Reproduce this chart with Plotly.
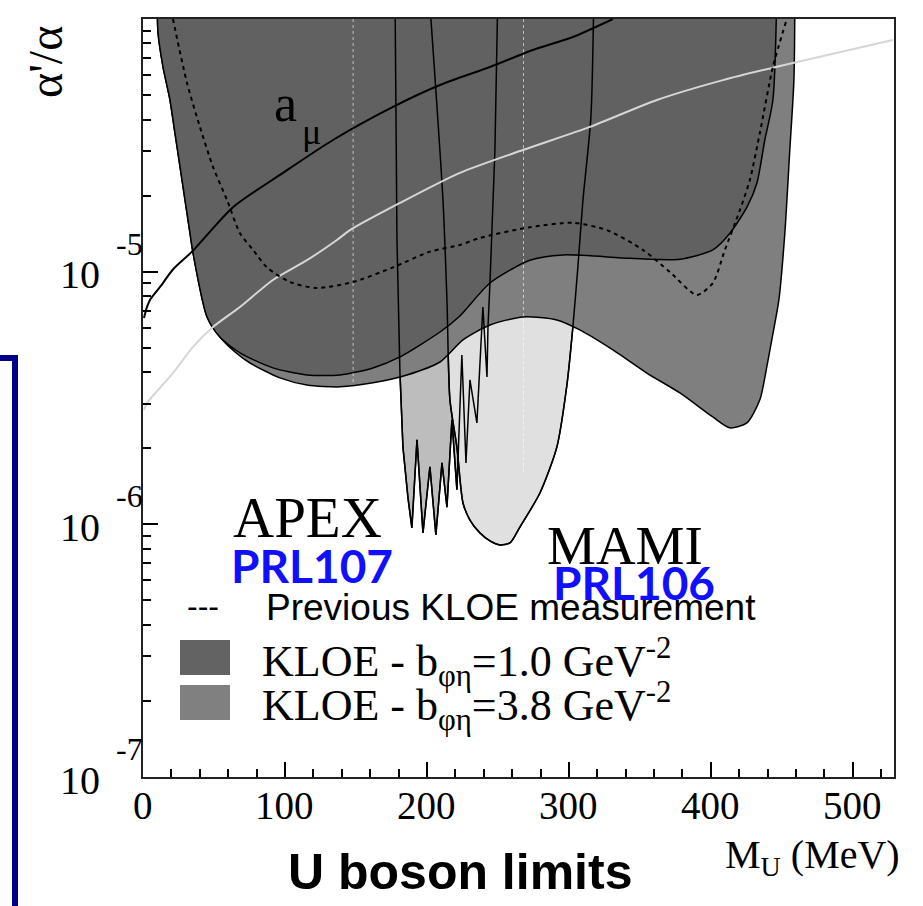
import numpy as np
import plotly.graph_objects as go

# ---------------- data (M_U in MeV, alpha'/alpha) ----------------
kloe1_x = [9.9, 10.6, 14.1, 19.0, 22.5, 26.1, 29.6, 33.1, 35.2, 45.1, 54.2, 68.3, 91.5, 115.5,
           138.7, 162.0, 181.0, 209.2, 223.2, 244.4, 272.5, 295.8, 343.0, 378.2, 401.4, 413.4,
           425.4, 432.4, 438.0, 443.7, 446.5]
kloe1_y = [1.3e-4, 8.80e-5, 6.46e-5, 4.78e-5, 3.54e-5, 2.60e-5, 1.92e-5, 1.42e-5, 1.19e-5, 6.62e-6,
           5.51e-6, 4.77e-6, 4.16e-6, 3.90e-6, 3.90e-6, 4.16e-6, 4.60e-6, 5.77e-6, 6.68e-6, 9.02e-6,
           1.11e-5, 1.165e-5, 1.13e-5, 1.12e-5, 1.22e-5, 1.42e-5, 1.80e-5, 2.24e-5, 3.32e-5,
           4.78e-5, 1.3e-4]

kloe38_x = [9.9, 10.6, 14.1, 19.0, 22.5, 26.1, 29.6, 33.1, 35.2, 45.1, 54.2, 64.8, 75.4, 96.5,
            115.5, 138.7, 162.0, 185.9, 209.2, 225.4, 244.4, 267.6, 291.5, 307.7, 331.0, 354.9,
            378.2, 401.4, 413.4, 425.4, 434.5, 439.4, 442.9, 447.9, 452.1, 455.6, 458.5, 459.2]
kloe38_y = [1.3e-4, 8.80e-5, 6.46e-5, 4.78e-5, 3.54e-5, 2.60e-5, 1.92e-5, 1.42e-5, 1.19e-5, 6.62e-6,
            5.51e-6, 4.81e-6, 4.35e-6, 3.80e-6, 3.56e-6, 3.50e-6, 3.63e-6, 3.90e-6, 4.39e-6,
            5.37e-6, 6.15e-6, 6.62e-6, 6.44e-6, 5.88e-6, 4.90e-6, 3.97e-6, 3.31e-6, 2.66e-6,
            2.41e-6, 2.52e-6, 3.11e-6, 4.20e-6, 5.37e-6, 7.73e-6, 1.42e-5, 3.03e-5, 5.73e-5, 1.3e-4]

prev_x = [21.1, 31.0, 40.1, 49.3, 59.2, 68.3, 77.5, 87.3, 103.5, 122.5, 147.9, 176.1, 202.1,
          223.2, 237.3, 272.5, 302.8, 326.8, 352.1, 371.1, 390.1, 401.4, 409.9, 420.4, 427.5,
          434.5, 443.7, 453.5]
prev_y = [1.0e-4, 5.58e-5, 3.74e-5, 2.60e-5, 1.92e-5, 1.42e-5, 1.22e-5, 1.04e-5, 9.10e-6, 8.62e-6,
          9.10e-6, 1.04e-5, 1.20e-5, 1.275e-5, 1.36e-5, 1.50e-5, 1.56e-5, 1.46e-5, 1.22e-5,
          9.97e-6, 8.09e-6, 9.02e-6, 1.22e-5, 1.75e-5, 2.31e-5, 3.54e-5, 6.46e-5, 1.0e-4]

amu_x = [0.7, 2.8, 4.9, 12.0, 21.1, 34.5, 63.4, 98.6, 133.8, 176.1, 209.2, 244.4, 274.6, 302.8, 331.0]
amu_y = [6.56e-6, 7.25e-6, 7.73e-6, 8.70e-6, 1.02e-5, 1.20e-5, 1.80e-5, 2.46e-5, 3.32e-5, 4.49e-5,
         5.48e-5, 6.46e-5, 7.54e-5, 8.49e-5, 1.0e-4]

light_x = [0.7, 2.8, 21.1, 35.2, 49.3, 68.3, 91.5, 115.5, 136.6, 145.8, 181.0, 223.2, 267.6,
           314.8, 362.0, 408.5, 457.7, 528.2]
light_y = [2.84e-6, 3.02e-6, 3.97e-6, 5.04e-6, 6.04e-6, 7.25e-6, 9.27e-6, 1.11e-5, 1.335e-5,
           1.46e-5, 1.87e-5, 2.46e-5, 3.03e-5, 3.74e-5, 4.78e-5, 5.73e-5, 6.70e-5, 8.26e-5]

apex_x = [177.5, 178.9, 181.0, 183.1, 186.6, 189.4, 193.0, 197.2, 202.1, 206.3, 210.6, 214.1,
          217.6, 221.1, 224.6, 227.5, 230.3, 235.2, 239.4, 242.3, 243.0, 244.4, 247.9, 250.0]
apex_y = [1.3e-4, 1.335e-5, 3.97e-6, 2.02e-6, 1.28e-6, 9.68e-7, 2.16e-6, 9.25e-7, 1.69e-6, 9.08e-7,
          1.75e-6, 1.17e-6, 2.59e-6, 1.37e-6, 4.68e-6, 1.75e-6, 3.73e-6, 2.52e-6, 7.25e-6,
          3.83e-6, 6.04e-6, 9.02e-6, 3.03e-5, 1.3e-4]

mami_x = [201.4, 211.3, 214.1, 216.2, 221.1, 225.4, 230.3, 237.3, 244.4, 251.4, 258.5, 265.5,
          279.6, 291.5, 298.6, 302.8, 306.3, 309.9, 315.5, 317.6]
mami_y = [1.3e-4, 1.92e-5, 7.73e-6, 3.11e-6, 2.02e-6, 1.215e-6, 1.04e-6, 9.25e-7, 8.60e-7, 8.29e-7,
          8.44e-7, 9.76e-7, 1.33e-6, 2.02e-6, 3.56e-6, 6.04e-6, 1.04e-5, 1.92e-5, 4.10e-5, 1.3e-4]

grid_x = [148, 268]           # faint dotted verticals
grid_ylow = [3.6e-6, 1.6e-6]

x_ticks = [0, 100, 200, 300, 400, 500]
y_decades = [-7, -6, -5]

# ---------------- layout helpers ----------------
W, H = 923, 906
ML, MR, MT, MB = 143, 29, 19, 129
PW, PH = W - ML - MR, H - MT - MB


def pxx(x):
    return (x - ML) / PW


def pxy(y):
    return (H - MB - y) / PH


SERIF = "Liberation Serif, Times New Roman, serif"
SANS = "Liberation Sans, Arial, sans-serif"

fig = go.Figure()


def poly(x, y, fill, spline=True, smooth=0.7):
    fig.add_trace(go.Scatter(
        x=x, y=y, mode="lines", fill="toself", fillcolor=fill,
        line=dict(color="black", width=1.5, shape="spline" if spline else "linear", smoothing=smooth),
        hoverinfo="skip", showlegend=False))


def line(x, y, color, width, dash="solid", spline=True):
    fig.add_trace(go.Scatter(
        x=x, y=y, mode="lines",
        line=dict(color=color, width=width, dash=dash, shape="spline" if spline else "linear", smoothing=0.7),
        hoverinfo="skip", showlegend=False))


poly(apex_x, apex_y, "#bdbdbd", spline=False)
poly(mami_x, mami_y, "#e0e0e0")
poly(kloe38_x, kloe38_y, "#7f7f7f")
poly(kloe1_x, kloe1_y, "#616161")
line(apex_x, apex_y, "black", 1.5, spline=False)
line(mami_x, mami_y, "black", 1.5)
for gx, gl in zip(grid_x, grid_ylow):
    line([gx, gx], [1.0e-4, gl], "rgba(255,255,255,0.6)", 1, dash="dot", spline=False)
line(light_x, light_y, "#d6d6d6", 2)
line(prev_x, prev_y, "black", 2, dash="4px,4px")
line(amu_x, amu_y, "black", 2)

minor_y = [m * 10.0 ** e for e in y_decades for m in range(2, 10)]

fig.update_xaxes(
    range=[0, 529], tickvals=x_ticks, showticklabels=False,
    ticks="inside", ticklen=15, tickwidth=1.5, tickcolor="black",
    minor=dict(dtick=20, tick0=0, ticks="inside", ticklen=8, tickwidth=1.5, tickcolor="black"),
    showgrid=False, zeroline=False, showline=True, linecolor="#222", linewidth=1.5, mirror=True)
fig.update_yaxes(
    type="log", range=[-7, -4], tickvals=[10.0 ** e for e in y_decades],
    showticklabels=False,
    ticks="inside", ticklen=15, tickwidth=1.5, tickcolor="black",
    minor=dict(tickvals=minor_y, ticks="inside", ticklen=8, tickwidth=1.5, tickcolor="black"),
    showgrid=False, zeroline=False, showline=True, linecolor="#222", linewidth=1.5, mirror=True)

ann = []


def text(t, x, y, size, family=SERIF, color="black", anchor="center", angle=0, weight="normal"):
    ann.append(dict(text=t, x=pxx(x), y=pxy(y), xref="paper", yref="paper", showarrow=False,
                    xanchor=anchor, yanchor="middle", textangle=angle,
                    font=dict(family=family, size=size, color=color, weight=weight)))


# x tick labels
for v in x_ticks:
    ann.append(dict(text=str(v), x=v, y=pxy(805), xref="x", yref="paper", showarrow=False,
                    xanchor="center", yanchor="middle",
                    font=dict(family=SERIF, size=39, color="black")))

# y tick labels (10^e)
for e in y_decades:
    ty = H - MB - (e + 7) / 3 * PH
    text("10", 80, ty + 3, 40)
    text(str(e), 129, ty - 28, 32)

text("α'/α", 46, 62, 48, angle=-90)
text("a", 285, 103, 52)
text("μ", 311, 132, 36)
text("APEX", 307, 517, 57)
text("MAMI", 625, 545, 55)
text("PRL107", 312, 565, 46, family="Lato, DejaVu Sans, sans-serif", color="#1010ff", weight="bold")
text("PRL106", 634, 582, 46, family="Lato, DejaVu Sans, sans-serif", color="#1010ff", weight="bold")
text("---", 203, 606, 32, family=SANS)
text("Previous KLOE measurement", 264, 607, 37, family=SANS, anchor="left")
text("KLOE - b<sub>φη</sub>=1.0 GeV<sup>-2</sup>", 260, 662, 44, anchor="left")
text("KLOE - b<sub>φη</sub>=3.8 GeV<sup>-2</sup>", 260, 706, 44, anchor="left")
text("M<sub>U</sub> (MeV)", 812, 857, 40)
text("U boson limits", 460, 872, 50, family=SANS, weight="bold")

shapes = [
    dict(type="rect", xref="paper", yref="paper", x0=pxx(180), x1=pxx(230), y0=pxy(675), y1=pxy(640),
         fillcolor="#636363", line=dict(width=0)),
    dict(type="rect", xref="paper", yref="paper", x0=pxx(180), x1=pxx(230), y0=pxy(720), y1=pxy(685),
         fillcolor="#808080", line=dict(width=0)),
    dict(type="path", xref="paper", yref="paper",
         path=f"M {pxx(-5)} {pxy(358)} L {pxx(15)} {pxy(358)} L {pxx(15)} {pxy(915)}",
         line=dict(color="#000088", width=6)),
]

fig.update_layout(
    width=W, height=H, autosize=False,
    margin=dict(l=ML, r=MR, t=MT, b=MB),
    paper_bgcolor="white", plot_bgcolor="white",
    annotations=ann, shapes=shapes, showlegend=False)

fig.write_html("out.html")
